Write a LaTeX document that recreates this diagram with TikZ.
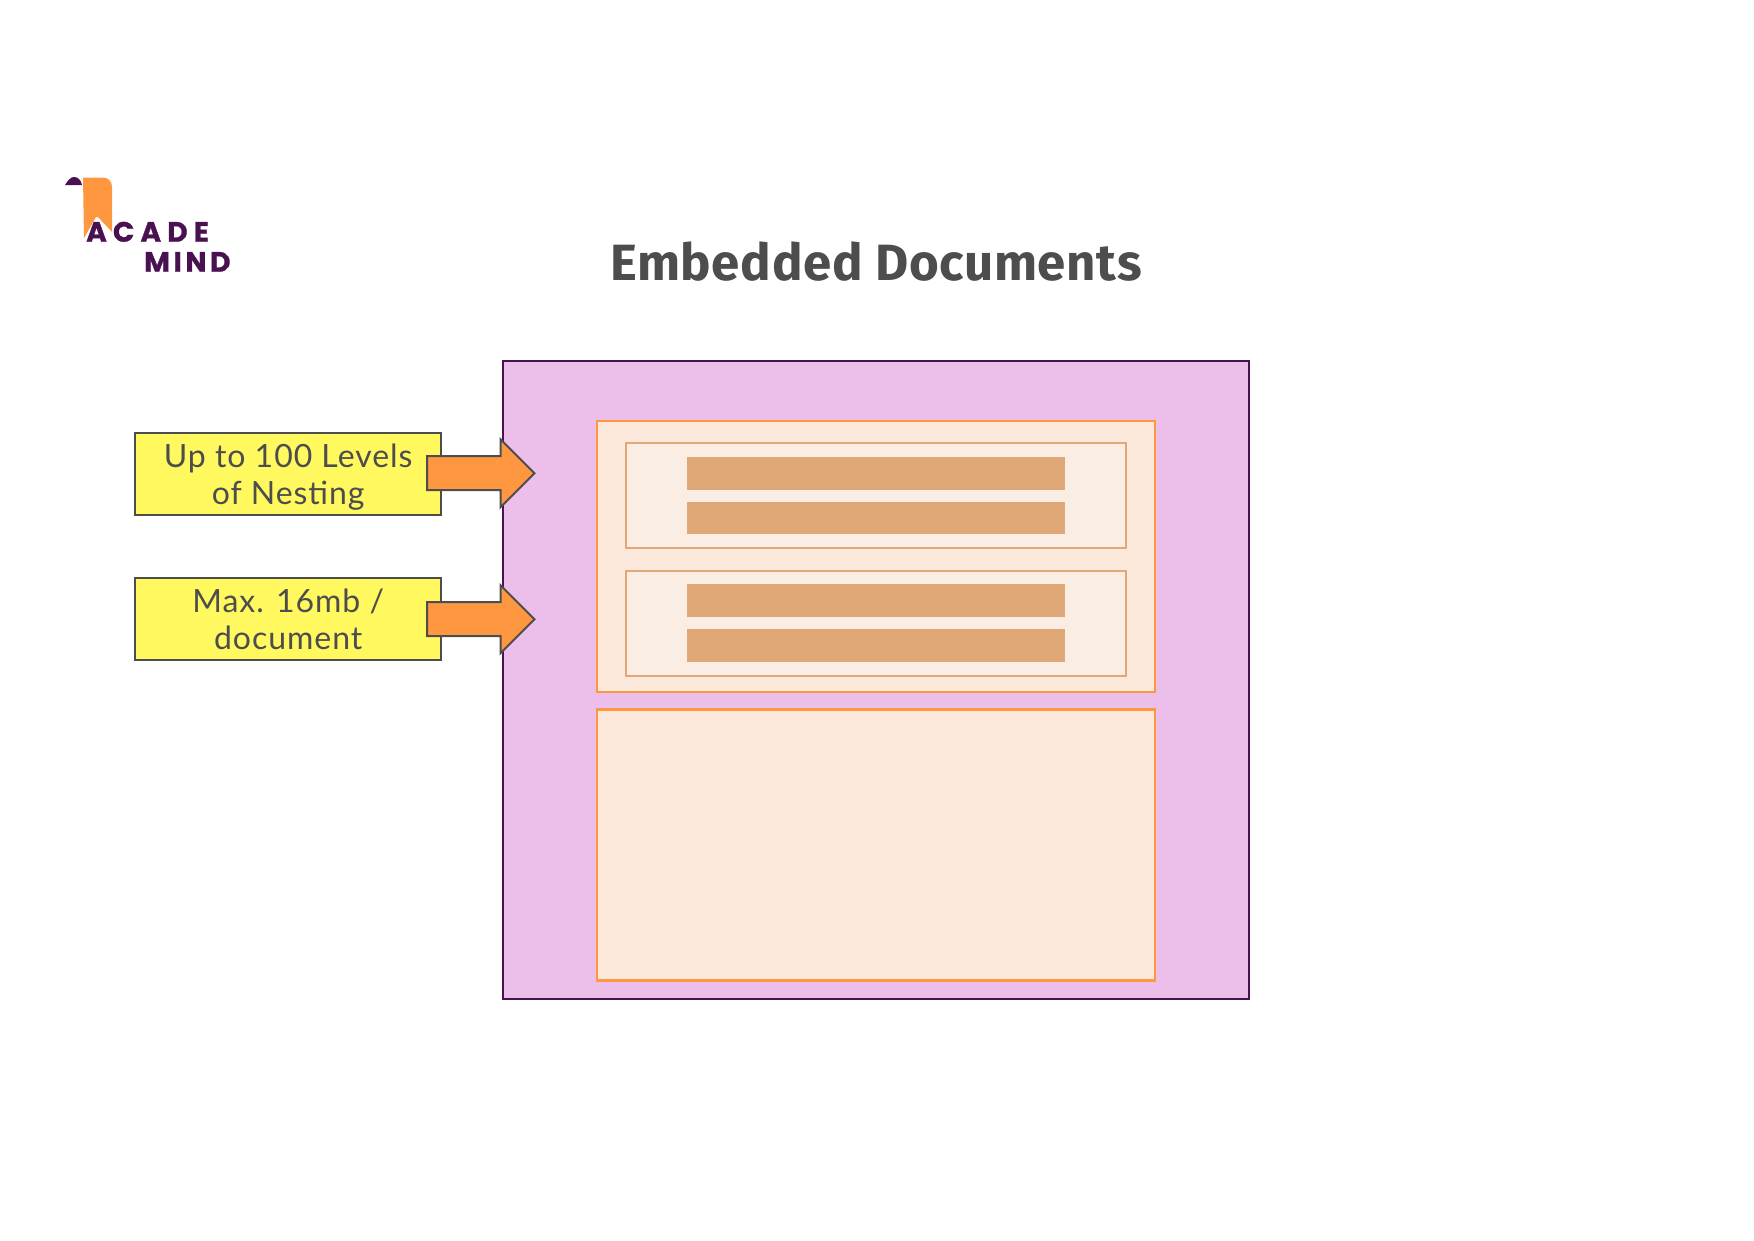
\documentclass[tikz,border=0pt]{standalone}
\usepackage{fontspec}
\usetikzlibrary{shapes.arrows}
\setmainfont[LetterSpace=3]{Lato}
\newfontfamily\titlefont[LetterSpace=1.3]{Fira Sans}
\newfontfamily\logowide[LetterSpace=22,FakeBold=0.9]{Poppins}
\newfontfamily\logotight[LetterSpace=13,FakeBold=0.9]{Poppins}
\definecolor{outerfill}{HTML}{ECBFEB}
\definecolor{outerline}{HTML}{4A1150}
\definecolor{logopurple}{HTML}{4A1150}
\definecolor{orangemain}{HTML}{FF9640}
\definecolor{peachfill}{HTML}{FCE9DB}
\definecolor{innerfill}{HTML}{FAEDE3}
\definecolor{barfill}{HTML}{E0A777}
\definecolor{notefill}{HTML}{FFF95F}
\definecolor{greytext}{HTML}{4D4D4D}
\newcommand{\notelines}[2]{\smash{\raisebox{-10.8pt}{\begin{tabular}{@{}c@{}}#1\\#2\end{tabular}}}}
\begin{document}
\begin{tikzpicture}[x=1pt, y=-1pt,
    doc/.style={draw=outerline, fill=outerfill, line width=2.2pt, minimum width=746, minimum height=638},
    embed/.style={draw=orangemain, fill=peachfill, line width=2.2pt, minimum width=558, minimum height=271},
    inner/.style={draw=barfill, fill=innerfill, line width=2pt, minimum width=500, minimum height=105},
    bar/.style={fill=barfill, minimum width=378, minimum height=32.5},
    note/.style={draw=greytext, fill=notefill, line width=2pt, minimum width=305.5, minimum height=82.5,
        text=greytext, font=\fontsize{32}{37.5}\selectfont},
    pointer/.style={single arrow, draw=greytext, fill=orangemain, line width=2pt, inner xsep=0pt, inner ysep=16pt,
        minimum height=107.5, minimum width=66, single arrow head extend=17pt, anchor=tail}]
    \useasboundingbox (0,0) rectangle (1754,1240);
    % logo
    \fill[orangemain] (83,177.5) -- (103,177.5) arc[start angle=-90, end angle=0, radius=9] -- (112,232)
        -- (98,217) -- (96,217) -- (84,238) -- cycle;
    \fill[logopurple] (65,185) .. controls (68,180) and (71,177) .. (74,177) .. controls (78,177) and (81,180) .. (82,185) -- cycle;
    \node[anchor=base west, inner sep=0pt, text=logopurple, font=\logowide\bfseries\fontsize{28}{28}\selectfont] (acade) at (86,241.7) {ACADE};
    \node[anchor=base west, inner sep=0pt, text=logopurple, font=\logotight\bfseries\fontsize{28}{28}\selectfont] (mind) at (144,271.7) {MIND};
    % title
    \node[anchor=base, inner sep=0pt, text=greytext, font=\titlefont\bfseries\fontsize{51}{51}\selectfont] (title) at (876,280) {Embedded Documents};
    % document
    \node[doc] (outer) at (876.2,679.6) {};
    \node[embed] (first) at (876.2,556.3) {};
    \node[embed] (second) at (876.2,845) {};
    \node[inner] (innerA) at (875.8,495.8) {};
    \node[inner] (innerB) at (875.8,623.8) {};
    \foreach \name/\y in {barA/473.4, barB/517.8, barC/600.7, barD/645.5}{
        \node[bar] (\name) at (875.8,\y) {};
    }
    % notes
    \node[note] (nesting) at (288.2,473.8) {\notelines{Up to 100 Levels}{of Nesting}};
    \node[note] (size) at (288.2,619.1) {\notelines{Max. 16mb /}{document}};
    \node[pointer] (nestingarrow) at (426,473.2) {};
    \node[pointer] (sizearrow) at (426,619.2) {};
\end{tikzpicture}
\end{document}
